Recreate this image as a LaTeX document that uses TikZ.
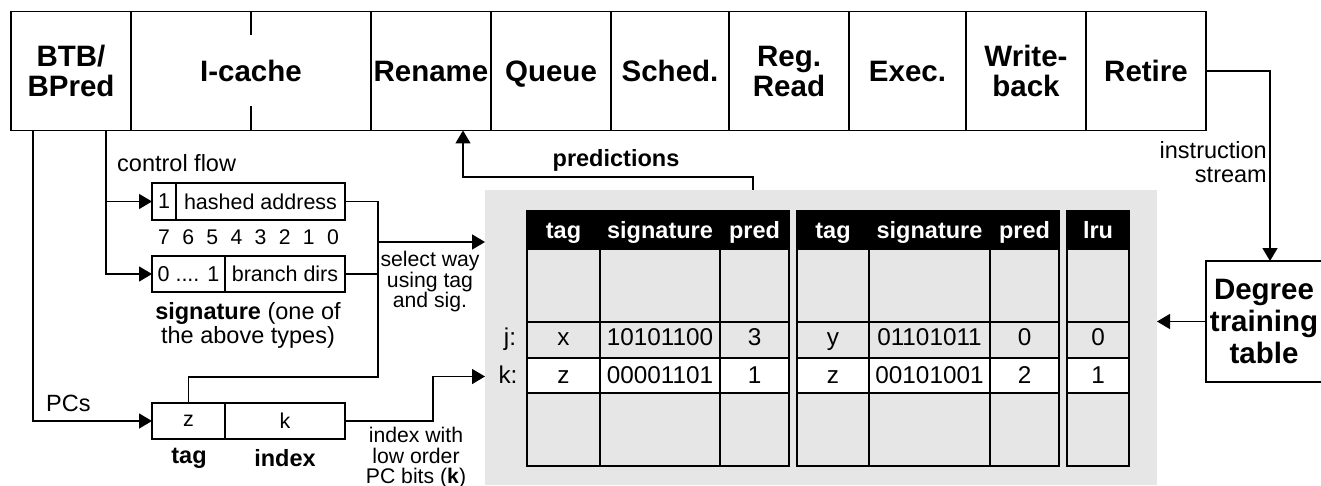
\documentclass[tikz,border=0pt]{standalone}
\usepackage{fontspec}
\setmainfont{Liberation Sans}
\usetikzlibrary{arrows.meta}
\definecolor{bg}{HTML}{E6E6E6}
\begin{document}
\begin{tikzpicture}[x=1pt,y=-1pt,
  stage/.style={draw, line width=1.5pt, inner sep=0pt, outer sep=0pt, minimum height=119pt, align=center, font=\fontsize{29.5}{30}\selectfont\bfseries},
  stagea/.style={stage, text height=21pt, text depth=0pt, yshift=-1.5pt},
  stageb/.style={stage, text height=51pt, text depth=0pt, yshift=-1.5pt},
  conn/.style={line width=1.5pt},
  arr/.style={conn, -{Triangle[length=13pt,width=15pt]}},
  bitbox/.style={draw, line width=2.6pt, inner sep=0pt, outer sep=0pt, anchor=north west, font=\fontsize{21.5}{21}\selectfont},
  lab/.style={inner sep=0pt, font=\fontsize{23.5}{24}\selectfont, align=center},
  blab/.style={inner sep=0pt, font=\fontsize{23.5}{24}\selectfont\bfseries, align=center},
  slab/.style={inner sep=0pt, font=\fontsize{21.2}{20.5}\selectfont, align=center},
  hdr/.style={inner sep=0pt, text=white, text height=17pt, text depth=0pt, font=\fontsize{23.5}{24}\selectfont\bfseries},
  cell/.style={inner sep=0pt, text height=17pt, text depth=0pt, font=\fontsize{24.3}{24}\selectfont},
  tline/.style={line width=2.6pt},
]
\useasboundingbox (0,0) rectangle (1321,486);

% grey table area
\node[fill=bg, inner sep=0pt, outer sep=0pt, minimum width=672pt, minimum height=295pt, anchor=north west] (grey) at (485,190) {};

% pipeline
\node[stageb, minimum width=120pt] (btb) at (71,69.5) {BTB/\\BPred};
\node[stagea, minimum width=240pt] (icache) at (251,69.5) {I-cache};
\node[stagea, minimum width=120pt] (rename) at (431,69.5) {Rename};
\node[stagea, minimum width=120pt] (queue) at (551,69.5) {Queue};
\node[stagea, minimum width=118pt] (sched) at (670,69.5) {Sched.};
\node[stageb, minimum width=120pt] (regread) at (789,69.5) {Reg.\\Read};
\node[stagea, minimum width=117pt] (exec) at (907.5,69.5) {Exec.};
\node[stageb, minimum width=120pt] (wb) at (1026,69.5) {Write-\\back};
\node[stagea, minimum width=120pt] (retire) at (1146,69.5) {Retire};
\draw[conn] (icache.north) -- ++(0,24);
\draw[conn] (icache.south) -- ++(0,-24);

% degree training table
\node[draw, line width=1.5pt, inner sep=0pt, outer sep=0pt, minimum width=116pt, minimum height=121pt, anchor=north west, align=center, font=\fontsize{29.5}{32}\selectfont\bfseries] (degree) at (1206,261) {Degree\\training\\table};

% signature boxes
\node[bitbox, minimum width=24pt, minimum height=37pt] (hone) at (152,183) {1};
\node[bitbox, minimum width=169pt, minimum height=37pt] (haddr) at (176,183) {hashed address};
\node[bitbox, minimum width=73pt, minimum height=36pt] (bz) at (152,256) {0 .... 1};
\node[bitbox, minimum width=120pt, minimum height=36pt] (bdirs) at (225,256) {branch dirs};
\node[bitbox, minimum width=73pt, minimum height=36pt] (tagz) at (152,403) {z};
\node[bitbox, minimum width=120pt, minimum height=36pt] (idxk) at (225,403) {k};

\foreach \i in {0,...,7} {
  \pgfmathtruncatemacro\dg{7-\i}
  \node[slab] (d\i) at ({152+24.125*(\i+0.5)},237) {\dg};
}

% labels
\node[lab, anchor=west] (cf) at (117,163) {control flow};
\node[lab] (siglab) at (248,325) {\textbf{signature} (one of\\the above types)};
\node[lab, anchor=west] (pcs) at (46,403) {PCs};
\node[blab] (taglab) at (189,458) {tag};
\node[blab] (idxlab) at (285,458) {index};
\node[slab] (sel) at (430,282) {select way\\using tag\\and sig.};
\node[slab] (iw) at (416,458) {index with\\low order\\PC bits (\textbf{k})};
\node[blab] (predlab) at (616,160) {predictions};
\node[lab, anchor=east, align=right] (instr) at (1267,162.5) {instruction\\stream};

% table
\foreach \a/\b in {527/789, 797/1059, 1067/1129} {
  \fill[black] (\a,211) rectangle (\b,250);
  \fill[white] (\a,358) rectangle (\b,393);
  \draw[tline] (\a,322) -- (\b,322) (\a,358) -- (\b,358) (\a,393) -- (\b,393);
  \draw[tline] (\a,211) rectangle (\b,466);
}
\draw[tline] (600,250) -- (600,466) (720,250) -- (720,466) (869,250) -- (869,466) (990,250) -- (990,466);

\node[hdr] (h1) at (563.5,229.5) {tag};
\node[hdr] (h2) at (660,229.5) {signature};
\node[hdr] (h3) at (754.5,229.5) {pred};
\node[hdr] (h4) at (833,229.5) {tag};
\node[hdr] (h5) at (929.5,229.5) {signature};
\node[hdr] (h6) at (1024.5,229.5) {pred};
\node[hdr] (h7) at (1098,229.5) {lru};

\node[cell] (jl) at (510,336.5) {j:};
\node[cell] (kl) at (508,374.5) {k:};
\node[cell] (j1) at (563.5,336.5) {x};
\node[cell] (j2) at (660,336.5) {10101100};
\node[cell] (j3) at (754.5,336.5) {3};
\node[cell] (j4) at (833,336.5) {y};
\node[cell] (j5) at (929.5,336.5) {01101011};
\node[cell] (j6) at (1024.5,336.5) {0};
\node[cell] (j7) at (1098,336.5) {0};
\node[cell] (k1) at (563.5,374.5) {z};
\node[cell] (k2) at (660,374.5) {00001101};
\node[cell] (k3) at (754.5,374.5) {1};
\node[cell] (k4) at (833,374.5) {z};
\node[cell] (k5) at (929.5,374.5) {00101001};
\node[cell] (k6) at (1024.5,374.5) {2};
\node[cell] (k7) at (1098,374.5) {1};

% connectors
\draw[arr] ([xshift=22pt]btb.south west) |- (tagz.west);
\draw[arr] ([xshift=95pt]btb.south west) |- (hone.west);
\draw[arr] ([xshift=95pt]btb.south west) |- (bz.west);
\coordinate (jn) at (378,242);
\coordinate (jlow) at (378,377);
\draw[conn] (haddr.east) -| (jlow) -| (tagz.north);
\draw[conn] (bdirs.east) -- (bdirs.east -| jn);
\draw[arr] (jn) -- (jn -| grey.west);
\draw[arr] (idxk.east) -- ++(88,0) |- ([yshift=-2pt]grey.west |- kl);
\draw[arr] ([xshift=268pt]grey.north west) -- ++(0,-13) -| ([xshift=92pt]rename.south west);
\draw[arr] (retire.east) -| ([xshift=64pt]degree.north west);
\draw[arr] (degree.west) -- (degree.west -| grey.east);
\end{tikzpicture}
\end{document}
